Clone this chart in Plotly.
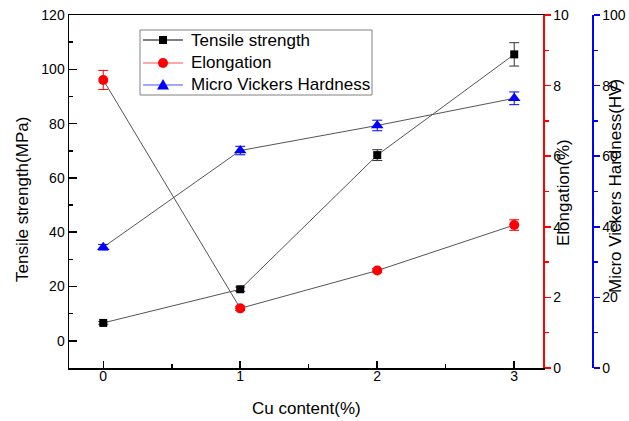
import plotly.graph_objects as go

# ---- data ----
cu = [0, 1, 2, 3]
tensile = [6.6, 19.0, 68.4, 105.5]
tensile_err = [0.5, 0.8, 2.0, 4.3]
elongation = [8.16, 1.69, 2.76, 4.05]
elongation_err = [0.27, 0.06, 0.05, 0.15]
hardness = [34.2, 61.6, 68.7, 76.4]
hardness_err = [0.8, 1.2, 1.5, 1.8]

x_ticks = [0, 1, 2, 3]
names = ["Tensile strength", "Elongation", "Micro Vickers Hardness"]

FONT = "Liberation Sans, Arial, sans-serif"
LINE_GRAY = "#555555"

W, H = 629, 421
ML, MR, MT, MB = 69, 37, 15, 53
PLOT_RIGHT = 543
pw = W - ML - MR
ph = H - MT - MB
xdom_end = (PLOT_RIGHT - ML) / pw


def px_x(p):
    return (p - ML) / pw


def px_y(p):
    return (H - MB - p) / ph


fig = go.Figure()

fig.add_trace(go.Scatter(
    x=cu, y=tensile, mode="lines+markers", yaxis="y", name=names[0], showlegend=False,
    line=dict(color=LINE_GRAY, width=1),
    marker=dict(symbol="square", size=8, color="black"),
    error_y=dict(type="data", array=tensile_err, color="#333333", thickness=1, width=5),
))
fig.add_trace(go.Scatter(
    x=cu, y=elongation, mode="lines+markers", yaxis="y2", name=names[1], showlegend=False,
    line=dict(color=LINE_GRAY, width=1),
    marker=dict(symbol="circle", size=10, color="red"),
    error_y=dict(type="data", array=elongation_err, color="red", thickness=1, width=5),
))
fig.add_trace(go.Scatter(
    x=cu, y=hardness, mode="lines+markers", yaxis="y3", name=names[2], showlegend=False,
    line=dict(color=LINE_GRAY, width=1),
    marker=dict(symbol="triangle-up", size=11, color="blue"),
    error_y=dict(type="data", array=hardness_err, color="blue", thickness=1, width=5),
))

# ---- legend drawn as decorations (box, sample lines, symbols, labels) ----
shapes = []
annotations = []
LEG_L, LEG_R, LEG_T, LEG_B = 140, 372, 30, 95
shapes.append(dict(type="rect", xref="paper", yref="paper",
                   x0=px_x(LEG_L), x1=px_x(LEG_R), y0=px_y(LEG_B), y1=px_y(LEG_T),
                   line=dict(color="#808080", width=1), fillcolor="white", layer="above"))
row_y = [40, 63, 85]
line_cols = ["black", "#ff4d4d", "#4d4dff"]
sym_cols = ["black", "red", "blue"]
cx = 163
for i, (ry, lc, sc, nm) in enumerate(zip(row_y, line_cols, sym_cols, names)):
    shapes.append(dict(type="line", xref="paper", yref="paper",
                       x0=px_x(143), x1=px_x(183), y0=px_y(ry), y1=px_y(ry),
                       line=dict(color=lc, width=1), layer="above"))
    if i == 0:
        shapes.append(dict(type="rect", xref="paper", yref="paper",
                           x0=px_x(cx - 4), x1=px_x(cx + 4), y0=px_y(ry + 4), y1=px_y(ry - 4),
                           line=dict(width=0), fillcolor=sc, layer="above"))
    elif i == 1:
        shapes.append(dict(type="circle", xref="paper", yref="paper",
                           x0=px_x(cx - 5), x1=px_x(cx + 5), y0=px_y(ry + 5), y1=px_y(ry - 5),
                           line=dict(width=0), fillcolor=sc, layer="above"))
    else:
        path = "M {:.5f},{:.5f} L {:.5f},{:.5f} L {:.5f},{:.5f} Z".format(
            px_x(cx), px_y(ry - 6), px_x(cx - 6), px_y(ry + 4.5), px_x(cx + 6), px_y(ry + 4.5))
        shapes.append(dict(type="path", xref="paper", yref="paper", path=path,
                           line=dict(width=0), fillcolor=sc, layer="above"))
    annotations.append(dict(text=nm, xref="paper", yref="paper",
                            x=px_x(189), y=px_y(ry), xanchor="left", yanchor="middle",
                            showarrow=False, font=dict(family=FONT, size=17, color="black")))

# ---- axis titles ----
title_font = dict(family=FONT, size=17, color="black")
annotations += [
    dict(text="Cu content(%)", xref="paper", yref="paper",
         x=px_x(306), y=px_y(408), xanchor="center", yanchor="middle",
         showarrow=False, font=title_font),
    dict(text="Tensile strength(MPa)", xref="paper", yref="paper",
         x=px_x(22), y=px_y(200), xanchor="center", yanchor="middle", textangle=-90,
         showarrow=False, font=title_font),
    dict(text="Elongation(%)", xref="paper", yref="paper",
         x=px_x(563), y=px_y(193), xanchor="center", yanchor="middle", textangle=-90,
         showarrow=False, font=title_font),
    dict(text="Micro Vickers Hardness(HV)", xref="paper", yref="paper",
         x=px_x(615), y=px_y(186), xanchor="center", yanchor="middle", textangle=-90,
         showarrow=False, font=title_font),
]

tickfont = dict(family=FONT, size=14, color="black")

fig.update_layout(
    template="none",
    width=W, height=H,
    margin=dict(l=ML, r=MR, t=MT, b=MB, pad=0, autoexpand=False),
    paper_bgcolor="white", plot_bgcolor="white",
    font=dict(family=FONT, size=14, color="black"),
    showlegend=False,
    hovermode=False,
    xaxis=dict(
        domain=[0, xdom_end], range=[-0.25, 3.21], automargin=False,
        tickvals=x_ticks, ticks="inside", ticklen=7, tickwidth=1.5, tickcolor="black",
        ticklabelstandoff=-5,
        showline=True, linecolor="black", linewidth=1.5, mirror=True,
        showgrid=False, zeroline=False, tickfont=tickfont,
        minor=dict(dtick=0.5, tick0=0, ticks="inside", ticklen=4, tickwidth=1.5, tickcolor="black", showgrid=False),
    ),
    yaxis=dict(
        range=[-10, 120], tick0=0, dtick=20, automargin=False,
        ticks="inside", ticklen=8, tickwidth=1.5, tickcolor="black",
        showline=True, linecolor="black", linewidth=1.5,
        showgrid=False, zeroline=False, tickfont=tickfont,
        minor=dict(dtick=10, tick0=0, ticks="inside", ticklen=4, tickwidth=1.5, tickcolor="black", showgrid=False),
    ),
    yaxis2=dict(
        overlaying="y", side="right", anchor="x", automargin=False,
        range=[0, 10], tick0=0, dtick=2,
        ticks="outside", ticklen=6, tickwidth=1.5, tickcolor="red",
        showline=True, linecolor="red", linewidth=1.5,
        showgrid=False, zeroline=False, tickfont=tickfont,
        minor=dict(dtick=1, tick0=0, ticks="outside", ticklen=4, tickwidth=1.5, tickcolor="red", showgrid=False),
    ),
    yaxis3=dict(
        overlaying="y", side="right", anchor="free", position=1.0, automargin=False,
        range=[0, 100], tick0=0, dtick=20,
        ticks="outside", ticklen=6, tickwidth=1.5, tickcolor="blue",
        showline=True, linecolor="blue", linewidth=1.5,
        showgrid=False, zeroline=False, tickfont=tickfont,
        minor=dict(dtick=10, tick0=0, ticks="outside", ticklen=4, tickwidth=1.5, tickcolor="blue", showgrid=False),
    ),
    shapes=shapes,
    annotations=annotations,
)

fig.write_html("out.html", config={"displayModeBar": False, "staticPlot": True},
               post_script="document.body.style.margin='0px';")
